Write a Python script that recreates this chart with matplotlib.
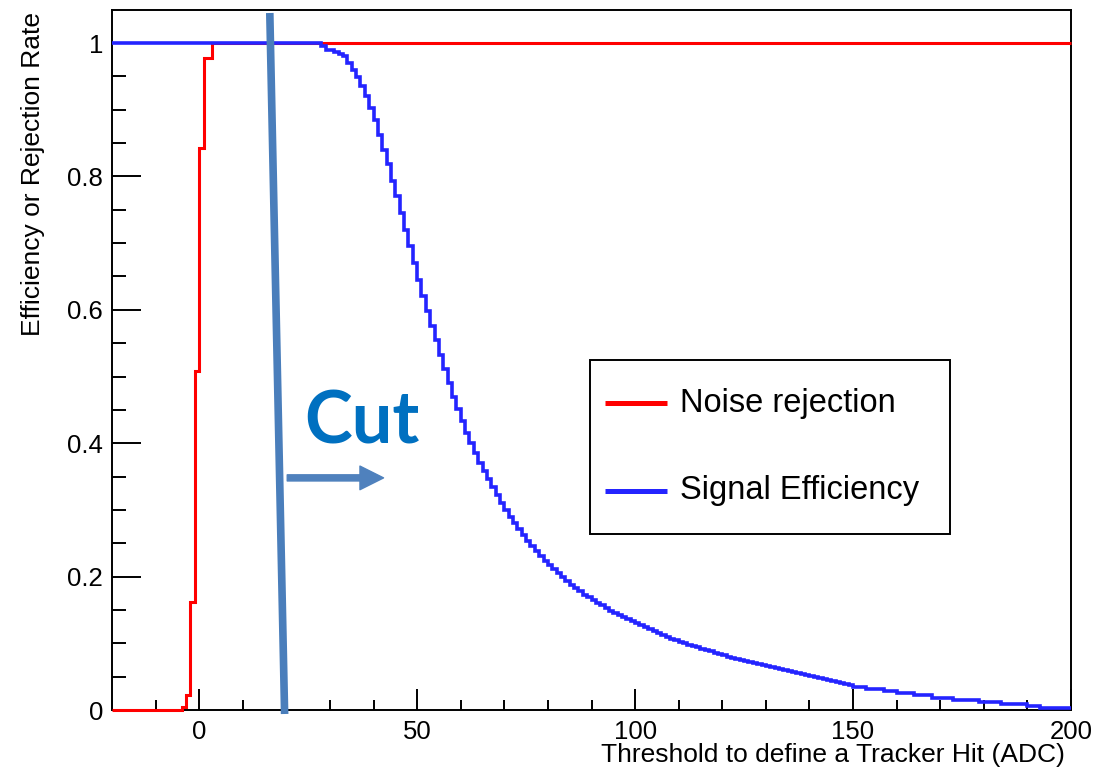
import matplotlib
matplotlib.use("Agg")
import matplotlib.pyplot as plt
from matplotlib.patches import Rectangle
from matplotlib.ticker import MultipleLocator, FuncFormatter

# Noise rejection histogram (bin edges, value per bin)
noise_edges = [-20, -4, -3, -2, -1, 0, 1, 3, 200]
noise_rate = [0.0, 0.005, 0.022, 0.162, 0.508, 0.842, 0.977, 1.0]

# Signal efficiency histogram, 1 ADC bins from 28 to 150, wider flat runs in the tail
signal_edges = [-20] + list(range(28, 151)) + [153, 157, 160, 164, 168, 173, 179, 184, 190, 193, 200]
signal_eff = [1.0,
    0.995, 0.99, 0.99, 0.987, 0.983, 0.98, 0.97, 0.96, 0.949, 0.936,      # 28-37
    0.921, 0.902, 0.884, 0.862, 0.84, 0.819, 0.793, 0.77, 0.745, 0.72,    # 38-47
    0.695, 0.67, 0.645, 0.62, 0.598, 0.576, 0.554, 0.532, 0.511, 0.49,    # 48-57
    0.47, 0.451, 0.433, 0.416, 0.4, 0.385, 0.371, 0.358, 0.346, 0.334,    # 58-67
    0.322, 0.311, 0.3, 0.29, 0.28, 0.271, 0.262, 0.254, 0.246, 0.238,     # 68-77
    0.231, 0.224, 0.217, 0.211, 0.205, 0.199, 0.193, 0.188, 0.183, 0.178, # 78-87
    0.173, 0.169, 0.165, 0.161, 0.157, 0.153, 0.149, 0.146, 0.142, 0.139, # 88-97
    0.136, 0.133, 0.13, 0.127, 0.124, 0.121, 0.118, 0.115, 0.112, 0.11,   # 98-107
    0.107, 0.105, 0.102, 0.1, 0.098, 0.096, 0.094, 0.092, 0.09, 0.088,    # 108-117
    0.086, 0.084, 0.082, 0.08, 0.078, 0.077, 0.075, 0.073, 0.072, 0.07,   # 118-127
    0.069, 0.067, 0.066, 0.064, 0.063, 0.061, 0.06, 0.058, 0.057, 0.056,  # 128-137
    0.054, 0.053, 0.051, 0.05, 0.048, 0.047, 0.045, 0.044, 0.042, 0.04,   # 138-147
    0.039, 0.037,                                                         # 148-149
    0.035, 0.0315, 0.0285, 0.025, 0.022, 0.0185, 0.015, 0.0115, 0.0085, 0.006, 0.0025]

series_labels = ["Noise rejection", "Signal Efficiency"]
series_colors = ["#ff0000", "#2424ff"]

x_title = "Threshold to define a Tracker Hit (ADC)"
y_title = "Efficiency or Rejection Rate"

# hand drawn cut marker (data coords)
cut_top = (16.2, 1.045)
cut_bottom = (19.6, -0.006)
arrow_from = (20.2, 0.348)
arrow_to = (42.3, 0.348)
cut_text_pos = (24.1, 0.399)

plt.rcParams["font.family"] = ["Liberation Sans", "DejaVu Sans"]

fig = plt.figure(figsize=(11.11, 7.7), dpi=100)
ax = fig.add_axes([112 / 1111, 60 / 770, 959 / 1111, 700 / 770])

# histograms drawn over the frame like ROOT does
ax.stairs(noise_rate, noise_edges, baseline=None, color=series_colors[0], lw=2.2,
          zorder=3, clip_on=False)
ax.stairs(signal_eff, signal_edges, baseline=None, color=series_colors[1], lw=2.6,
          zorder=4, clip_on=False)

ax.set_xlim(-20, 200)
ax.set_ylim(0, 1.0495)

# ROOT style axes
for sp in ax.spines.values():
    sp.set_linewidth(1.4)
    sp.set_zorder(2)
ax.xaxis.set_major_locator(MultipleLocator(50))
ax.xaxis.set_minor_locator(MultipleLocator(10))
ax.yaxis.set_major_locator(MultipleLocator(0.2))
ax.yaxis.set_minor_locator(MultipleLocator(0.05))
ax.yaxis.set_major_formatter(FuncFormatter(lambda v, p: "%g" % round(v, 2)))
ax.tick_params(axis="x", which="major", direction="in", length=15, width=1.4, labelsize=18.5, pad=7)
ax.tick_params(axis="x", which="minor", direction="in", length=7.5, width=1.4)
ax.tick_params(axis="y", which="major", direction="in", length=21, width=1.4, labelsize=18.5, pad=6.5)
ax.tick_params(axis="y", which="minor", direction="in", length=10.4, width=1.4)

ax.set_xlabel(x_title, fontsize=19, ha="right", va="top")
ax.xaxis.set_label_coords(0.9937, -0.047)
ax.set_ylabel(y_title, fontsize=19, ha="right", va="center")
ax.yaxis.set_label_coords(-0.082, 0.997)

# legend box drawn by hand to match ROOT TLegend layout
ax.add_patch(Rectangle((0.4984, 0.2514), 0.3754, 0.2486, transform=ax.transAxes,
                       facecolor="white", edgecolor="black", lw=1.4, zorder=6))
for i, (lab, col) in enumerate(zip(series_labels, series_colors)):
    ly = [0.4386, 0.3129][i]
    ty = [0.4261, 0.3014][i]
    ax.plot([0.514, 0.5787], [ly, ly], transform=ax.transAxes, color=col, lw=3.6,
            solid_capstyle="butt", zorder=7)
    ax.text(0.5923, ty, lab, transform=ax.transAxes, fontsize=23.5, va="baseline", zorder=7)

# cut annotation
ax.plot([cut_top[0], cut_bottom[0]], [cut_top[1], cut_bottom[1]], color="#4a7ebb", lw=5.5,
        solid_capstyle="butt", clip_on=False, zorder=8)
ax.annotate("", xy=arrow_to, xytext=arrow_from,
            arrowprops=dict(arrowstyle="simple,head_length=1.0,head_width=1.0,tail_width=0.26",
                            mutation_scale=17, color="#4f81bd", shrinkA=0, shrinkB=0), zorder=8)
ax.text(cut_text_pos[0], cut_text_pos[1], "Cut", fontsize=52, fontweight="bold",
        family=["Lato", "DejaVu Sans"], color="#0070c0", va="baseline", ha="left", zorder=8)

fig.savefig("out.png", dpi=100)
